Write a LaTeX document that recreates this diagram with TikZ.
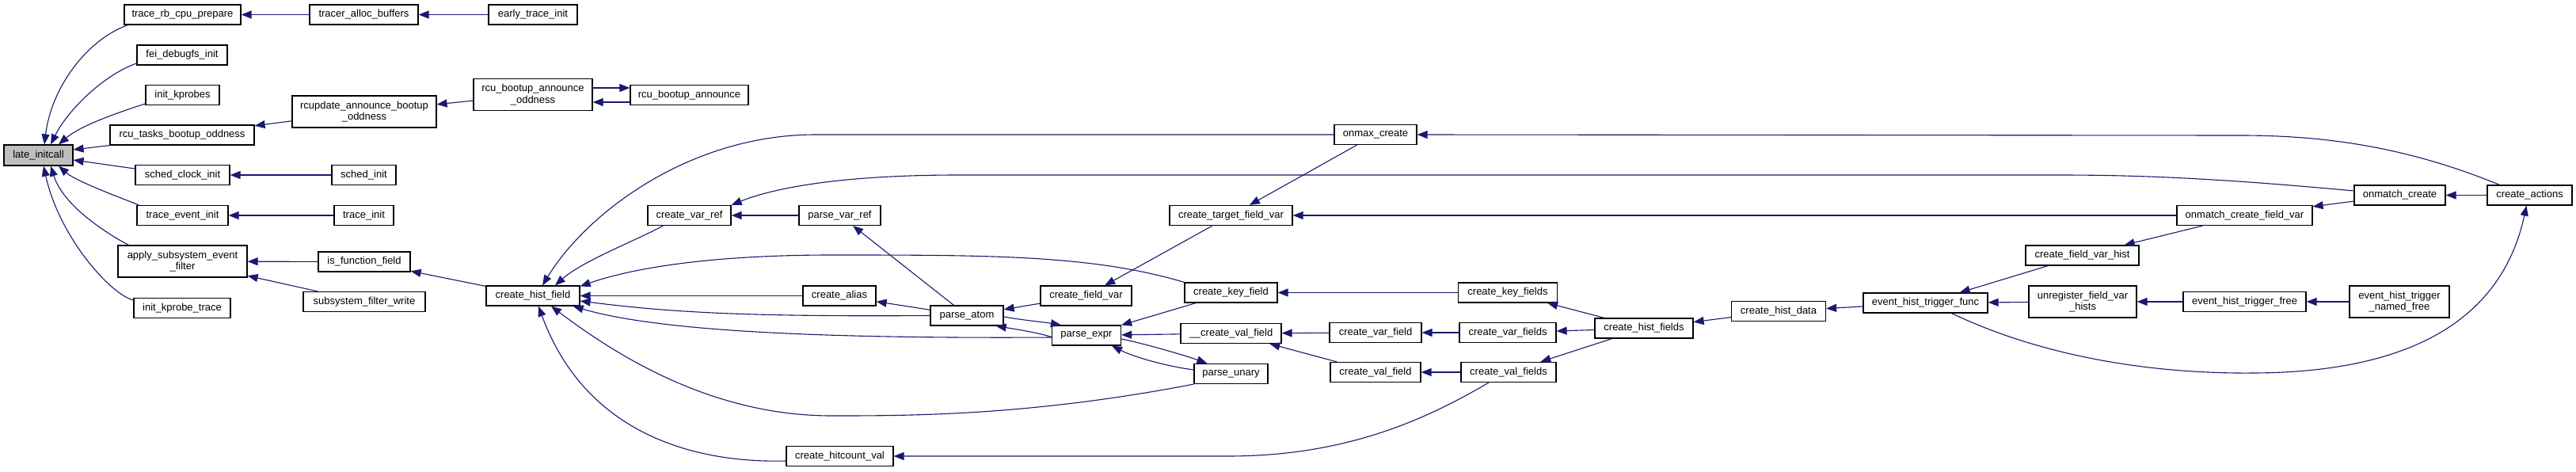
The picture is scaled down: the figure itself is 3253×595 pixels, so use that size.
\documentclass[tikz,border=0pt]{standalone}
\usepackage{fontspec}
\setmainfont{Liberation Sans}
\usetikzlibrary{arrows.meta}
\definecolor{cgblue}{HTML}{191970}
\definecolor{latgray}{HTML}{BFBFBF}
\begin{document}
\begin{tikzpicture}[x=1pt,y=-1pt,
  nb/.style={draw=black, line width=1.2pt, fill=white, inner sep=0pt, minimum height=25pt, font=\fontsize{13}{14.5}\selectfont, align=center},
  two/.style={minimum height=40pt},
  cg/.style={draw=cgblue, line width=1.1pt, -{Triangle[length=13pt,width=10pt]}}]
\useasboundingbox (0,0) rectangle (3253,595);
\fill[white] (0,0) rectangle (3253,595);
% nodes
\node[nb, fill=latgray, minimum width=87pt, minimum height=26pt] (li) at (48.5,196) {late\_initcall};
\node[nb, minimum width=147pt] (trbcp) at (230.5,18.5) {trace\_rb\_cpu\_prepare};
\node[nb, minimum width=137pt] (tab) at (459.5,18.5) {tracer\_alloc\_buffers};
\node[nb, minimum width=112pt] (eti) at (673,18.5) {early\_trace\_init};
\node[nb, minimum width=114pt] (fei) at (230,69.5) {fei\_debugfs\_init};
\node[nb, minimum width=93pt] (ik) at (230.5,120) {init\_kprobes};
\node[nb, minimum width=182pt] (rtbo) at (230,170.5) {rcu\_tasks\_bootup\_oddness};
\node[nb, two, minimum width=182pt] (rabo) at (460,141) {rcupdate\_announce\_bootup\\\_oddness};
\node[nb, two, minimum width=150pt] (rboa) at (673,119.5) {rcu\_bootup\_announce\\\_oddness};
\node[nb, minimum width=149pt] (rba) at (870.5,120) {rcu\_bootup\_announce};
\node[nb, minimum width=119pt] (sci) at (230.5,221) {sched\_clock\_init};
\node[nb, minimum width=81pt] (si) at (459.5,221) {sched\_init};
\node[nb, minimum width=115pt] (tei) at (230.5,272) {trace\_event\_init};
\node[nb, minimum width=75pt] (ti) at (459.5,272) {trace\_init};
\node[nb, two, minimum width=163pt] (asef) at (230.5,330) {apply\_subsystem\_event\\\_filter};
\node[nb, minimum width=122pt] (ikt) at (230,389) {init\_kprobe\_trace};
\node[nb, minimum width=116pt] (iff) at (460,330.5) {is\_function\_field};
\node[nb, minimum width=154pt] (sfw) at (460,381) {subsystem\_filter\_write};
\node[nb, minimum width=118pt] (chf) at (673,373.5) {create\_hist\_field};
\node[nb, minimum width=105pt] (cvr) at (870.5,272) {create\_var\_ref};
\node[nb, minimum width=103pt] (pvr) at (1060.5,272) {parse\_var\_ref};
\node[nb, minimum width=92pt] (cal) at (1060,373.5) {create\_alias};
\node[nb, minimum width=92pt] (pat) at (1221,398.5) {parse\_atom};
\node[nb, minimum width=135pt] (chv) at (1060.5,576) {create\_hitcount\_val};
\node[nb, minimum width=115pt] (cfv) at (1371.5,373.5) {create\_field\_var};
\node[nb, minimum width=87pt] (pex) at (1372,423.5) {parse\_expr};
\node[nb, minimum width=155pt] (ctfv) at (1554.5,272) {create\_target\_field\_var};
\node[nb, minimum width=104pt] (omx) at (1737,170) {onmax\_create};
\node[nb, minimum width=117pt] (ckf) at (1554.5,369.5) {create\_key\_field};
\node[nb, minimum width=127pt] (ucvf) at (1554.5,421) {\_\_create\_val\_field};
\node[nb, minimum width=93pt] (pun) at (1554.5,472) {parse\_unary};
\node[nb, minimum width=116pt] (cvaf) at (1737,420) {create\_var\_field};
\node[nb, minimum width=114pt] (cvlf) at (1737,470) {create\_val\_field};
\node[nb, minimum width=125pt] (ckfs) at (1904,369.5) {create\_key\_fields};
\node[nb, minimum width=122pt] (cvafs) at (1904,420) {create\_var\_fields};
\node[nb, minimum width=120pt] (cvlfs) at (1905,470) {create\_val\_fields};
\node[nb, minimum width=124pt] (chfs) at (2076,414.5) {create\_hist\_fields};
\node[nb, minimum width=119pt] (chd) at (2246,393) {create\_hist\_data};
\node[nb, minimum width=157pt] (ehtf) at (2431.5,382.5) {event\_hist\_trigger\_func};
\node[nb, minimum width=143pt] (cfvh) at (2629.5,322.5) {create\_field\_var\_hist};
\node[nb, two, minimum width=136pt] (ufvh) at (2630,381) {unregister\_field\_var\\\_hists};
\node[nb, minimum width=171pt] (ocfv) at (2834.5,272) {onmatch\_create\_field\_var};
\node[nb, minimum width=115pt] (omc) at (3030.5,246.5) {onmatch\_create};
\node[nb, minimum width=107pt] (cac) at (3194.5,246.5) {create\_actions};
\node[nb, minimum width=155pt] (ehtfr) at (2834.5,381) {event\_hist\_trigger\_free};
\node[nb, two, minimum width=126pt] (ehtnf) at (3030,381) {event\_hist\_trigger\\\_named\_free};
% edges into late_initcall
\draw[cg] ([xshift=5pt]trbcp.south west) .. controls (110,50) and (65,110) .. ([xshift=7.5pt]li.north);
\draw[cg] ([yshift=-10.5pt]fei.west) .. controls (130,95) and (85,140) .. ([xshift=15.5pt]li.north);
\draw[cg] ([yshift=-11pt]ik.west) .. controls (140,145) and (100,160) .. ([xshift=25.5pt]li.north);
\draw[cg] (rtbo.south west) -- ([yshift=7pt]li.east);
\draw[cg] ([yshift=8pt]sci.west) -- ([yshift=-6pt]li.east);
\draw[cg] ([xshift=3pt]tei.north west) .. controls (140,245) and (95,228) .. ([xshift=25.5pt]li.south);
\draw[cg] ([xshift=14pt]asef.north west) .. controls (135,295) and (80,260) .. ([xshift=15.5pt]li.south);
\draw[cg] ([yshift=10pt]ikt.west) .. controls (140,372) and (75,300) .. ([xshift=6.5pt]li.south);
% left chains
\draw[cg] (tab) -- (trbcp);
\draw[cg] (eti) -- (tab);
\draw[cg] (rabo) -- (rtbo);
\draw[cg] (rboa) -- (rabo);
\draw[cg] ([yshift=8.5pt]rboa.east) -- ([yshift=9pt]rba.west);
\draw[cg] ([yshift=-9pt]rba.west) -- ([yshift=-9.5pt]rboa.east);
\draw[cg] (si) -- (sci);
\draw[cg] (ti) -- (tei);
\draw[cg] (iff) -- (asef);
\draw[cg] (sfw) -- (asef);
\draw[cg] (chf) -- (iff);
% into create_hist_field
\draw[cg] (omx.west) -- (1030,170) .. controls (870,170) and (740,270) .. ([xshift=12pt]chf.north);
\draw[cg] ([xshift=20pt]cvr.south west) .. controls (800,305) and (735,330) .. ([xshift=28pt]chf.north);
\draw[cg] (ckf.north west) .. controls (1380,322) and (1250,322) .. (1050,322) .. controls (900,322) and (800,338) .. ([yshift=12pt]chf.east);
\draw[cg] (cal) -- (chf);
\draw[cg] (pat.west) .. controls (950,400) and (850,395) .. ([yshift=-6.5pt]chf.east);
\draw[cg] ([yshift=-2.5pt]pex.west) .. controls (1000,428) and (820,415) .. ([xshift=-9pt]chf.south east);
\draw[cg] (pun.south west) .. controls (1300,525) and (1150,525) .. (1050,525) .. controls (900,525) and (780,450) .. ([xshift=23pt]chf.south);
\draw[cg] ([yshift=-6pt]chv.west) .. controls (880,585) and (740,550) .. ([xshift=7pt]chf.south);
\draw[cg] ([xshift=-25pt]cvlfs.south) .. controls (1800,530) and (1700,576) .. (1550,576) -- (chv.east);
% middle
\draw[cg] (pvr) -- (cvr);
\draw[cg] ([yshift=5.5pt]omc.west) .. controls (2800,225) and (2700,221) .. (2600,221) -- (1210,221) .. controls (1050,221) and (970,240) .. (cvr.north east);
\draw[cg] (pat) -- (pvr);
\draw[cg] (pat) -- (cal);
\draw[cg] (cfv) -- (pat);
\draw[cg] ([yshift=-1.5pt]pat.east) .. controls (1290,404) and (1320,407) .. ([xshift=12pt]pex.north west);
\draw[cg] ([yshift=-2pt]pex.west) .. controls (1310,420) and (1285,416) .. ([xshift=-10pt]pat.south east);
\draw[cg] (ctfv) -- (cfv);
\draw[cg] (omx) -- (ctfv);
\draw[cg] (ocfv) -- (ctfv);
\draw[cg] (ckf) -- (pex);
\draw[cg] (ucvf) -- (pex);
\draw[cg] ([yshift=5pt]pun.west) .. controls (1470,462) and (1430,450) .. ([xshift=-12pt]pex.south east);
\draw[cg] ([yshift=-4.5pt]pex.east) .. controls (1450,435) and (1500,450) .. ([xshift=17pt]pun.north west);
\draw[cg] (cvaf) -- (ucvf);
\draw[cg] (cvlf) -- (ucvf);
\draw[cg] (ckfs) -- (ckf);
\draw[cg] (cvafs) -- (cvaf);
\draw[cg] (cvlfs) -- (cvlf);
\draw[cg] (chfs) -- (ckfs);
\draw[cg] (chfs) -- (cvafs);
\draw[cg] (chfs) -- (cvlfs);
\draw[cg] (chd) -- (chfs);
\draw[cg] (ehtf) -- (chd);
\draw[cg] (cfvh) -- (ehtf);
\draw[cg] (ufvh) -- (ehtf);
\draw[cg] ([xshift=33pt]ehtf.south) .. controls (2600,460) and (2750,472) .. (2846,471) .. controls (3050,470) and (3160,400) .. ([xshift=-4pt]cac.south);
\draw[cg] (ocfv) -- (cfvh);
\draw[cg] (omc) -- (ocfv);
\draw[cg] (cac) -- (omc);
\draw[cg] ([xshift=-38pt]cac.north) .. controls (3050,190) and (2950,171) .. (2830,171) -- (omx.east);
\draw[cg] (ehtfr) -- (ufvh);
\draw[cg] (ehtnf) -- (ehtfr);
\end{tikzpicture}
\end{document}
